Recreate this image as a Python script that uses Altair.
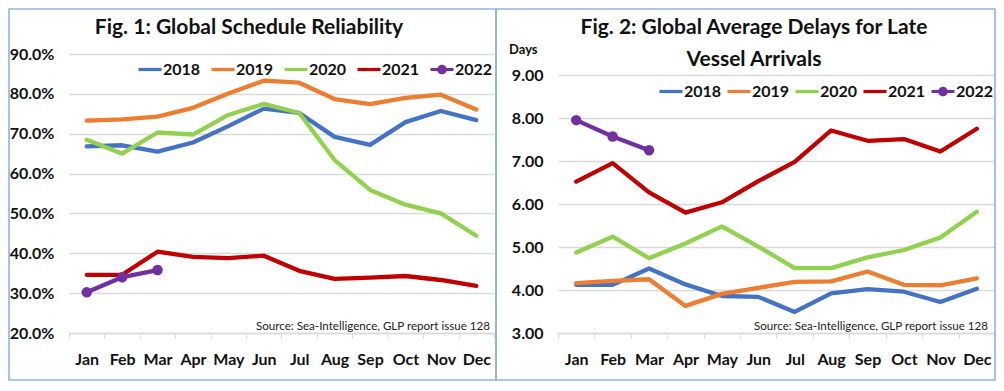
import altair as alt
import pandas as pd

months = ["Jan", "Feb", "Mar", "Apr", "May", "Jun", "Jul", "Aug", "Sep", "Oct", "Nov", "Dec"]
years = ["2018", "2019", "2020", "2021", "2022"]
colors = ["#4472C4", "#ED7D31", "#92D050", "#C00000", "#7030A0"]

rel_2018 = [66.8, 67.1, 65.5, 67.8, 71.9, 76.3, 75.2, 69.2, 67.2, 72.9, 75.7, 73.4]
rel_2019 = [73.3, 73.6, 74.3, 76.5, 80.1, 83.3, 82.8, 78.7, 77.4, 79.0, 79.8, 76.1]
rel_2020 = [68.5, 65.0, 70.3, 69.8, 74.7, 77.5, 75.2, 63.4, 55.9, 52.2, 50.0, 44.4]
rel_2021 = [34.6, 34.6, 40.4, 39.1, 38.8, 39.4, 35.6, 33.6, 33.9, 34.3, 33.3, 31.8]
rel_2022 = [30.2, 34.0, 35.8]

delay_2018 = [4.12, 4.12, 4.50, 4.13, 3.86, 3.84, 3.49, 3.92, 4.02, 3.96, 3.72, 4.03]
delay_2019 = [4.16, 4.21, 4.25, 3.63, 3.91, 4.05, 4.19, 4.20, 4.43, 4.12, 4.11, 4.27]
delay_2020 = [4.87, 5.24, 4.74, 5.08, 5.48, 5.01, 4.51, 4.51, 4.76, 4.93, 5.22, 5.82]
delay_2021 = [6.52, 6.95, 6.27, 5.80, 6.04, 6.53, 6.98, 7.71, 7.47, 7.51, 7.22, 7.75]
delay_2022 = [7.95, 7.57, 7.25]

rel_ticks = [20, 30, 40, 50, 60, 70, 80, 90]
delay_ticks = [3, 4, 5, 6, 7, 8, 9]

FONT = "Lato"
GRID = "#D9D9D9"
FRAME = "#8EB4E3"

LINE_PATH = "M-1,-0.14H1V0.14H-1Z"
DOT_PATH = "M-1,-0.14H1V0.14H-1Z M0.42,0 A0.42,0.42 0 1,1 -0.42,0 A0.42,0.42 0 1,1 0.42,0 Z"
shapes = [LINE_PATH, LINE_PATH, LINE_PATH, LINE_PATH, DOT_PATH]


def long_df(series):
    rows = []
    for yr, col, vals in zip(years, colors, series):
        for m, v in zip(months, vals):
            rows.append({"month": m, "year": yr, "value": v, "hex": col})
    return pd.DataFrame(rows)


def panel(df, width, height, ydomain, yticks, fmt, title_lines, title_x, legend_x,
          legend_y, col_pad, frame, source_x, days=False):
    x = alt.X("month:N", sort=months,
              scale=alt.Scale(type="band", paddingInner=0, paddingOuter=0),
              axis=alt.Axis(title=None, labelAngle=0, grid=False, domainColor=GRID,
                            domainWidth=1.5, tickColor=GRID, tickSize=5, tickBand="extent",
                            labelFontSize=16, labelFontWeight="bold", labelColor="#111111",
                            labelPadding=13, labelFont=FONT))
    y = alt.Y("value:Q",
              scale=alt.Scale(domain=ydomain, nice=False, zero=False),
              axis=alt.Axis(title=None, values=yticks, grid=True, gridColor=GRID,
                            gridWidth=1.5, domain=False, ticks=False,
                            labelExpr=f"format(datum.value, '{fmt}')" + (" + '%'" if days is False else ""),
                            labelFontSize=16, labelFontWeight="bold", labelColor="#111111",
                            labelPadding=15, labelFont=FONT))
    base = alt.Chart(df)
    lines = base.mark_line(strokeWidth=4.3, strokeCap="round", strokeJoin="round").encode(
        x=x, y=y, color=alt.Color("hex:N", scale=None), detail="year:N")
    pts = base.transform_filter(alt.datum.year == "2022").mark_point(
        filled=True, size=110, opacity=1).encode(
        x=x, y=y, color=alt.Color("hex:N", scale=None))
    leg = alt.Legend(title=None, orient="none", legendX=legend_x, legendY=legend_y,
                     direction="horizontal", labelFontSize=16, labelFontWeight="bold",
                     labelColor="#111111", labelFont=FONT, symbolSize=530,
                     symbolStrokeWidth=0, labelOffset=1, columnPadding=col_pad, padding=0)
    legend_layer = base.transform_filter(alt.datum.year == "none").mark_point(
        filled=True, opacity=1).encode(
        color=alt.Color("year:N", scale=alt.Scale(domain=years, range=colors), legend=leg),
        shape=alt.Shape("year:N", scale=alt.Scale(domain=years, range=shapes), legend=leg))

    one = alt.Chart(pd.DataFrame({"k": [0]}))
    frame_layer = one.mark_rect(fill="transparent", stroke=FRAME, strokeWidth=1.6).encode(
        x=alt.value(frame[0]), x2=alt.value(frame[1]),
        y=alt.value(frame[2]), y2=alt.value(frame[3]))
    texts = []
    for txt, ty in title_lines:
        texts.append(one.mark_text(text=txt, font=FONT, fontSize=21, fontWeight="bold",
                                   color="#111111", align="center", baseline="alphabetic").encode(
            x=alt.value(title_x), y=alt.value(ty)))
    texts.append(one.mark_text(text="Source: Sea-Intelligence, GLP report issue 128", font=FONT,
                               fontSize=11.6, color="#222222", align="right",
                               baseline="alphabetic").encode(
        x=alt.value(source_x), y=alt.value(276)))
    if days:
        texts.append(one.mark_text(text="Days", font=FONT, fontSize=13, fontWeight="bold",
                                   color="#111111", align="left", baseline="alphabetic").encode(
            x=alt.value(-49), y=alt.value(0)))
    return alt.layer(frame_layer, lines, pts, legend_layer, *texts).properties(
        width=width, height=height)


rel_df = long_df([rel_2018, rel_2019, rel_2020, rel_2021, rel_2022])
delay_df = long_df([delay_2018, delay_2019, delay_2020, delay_2021, delay_2022])

left = panel(rel_df, 425, 279, [20, 90], rel_ticks, ".1f",
             [("Fig. 1: Global Schedule Reliability", -20)], 180, 69, 3.5, 10,
             (-60, 427, -45, 326), 421)
right = panel(delay_df, 437, 279, [3, 9 + 21 / 43], delay_ticks, ".2f",
              [("Fig. 2: Global Average Delays for Late", -20), ("Vessel Arrivals", 12)],
              196, 101, 25.5, 5, (-62, 437, -45, 326), 430, days=True)

chart = alt.hconcat(left, right, spacing=64, bounds="flush").resolve_scale(
    color="independent", shape="independent").resolve_legend(
    color="independent", shape="independent").properties(
    padding=0, background="white").configure_view(strokeWidth=0).configure_legend(
    padding=0)

chart.save("out.html", embed_options={"renderer": "svg", "actions": False})
